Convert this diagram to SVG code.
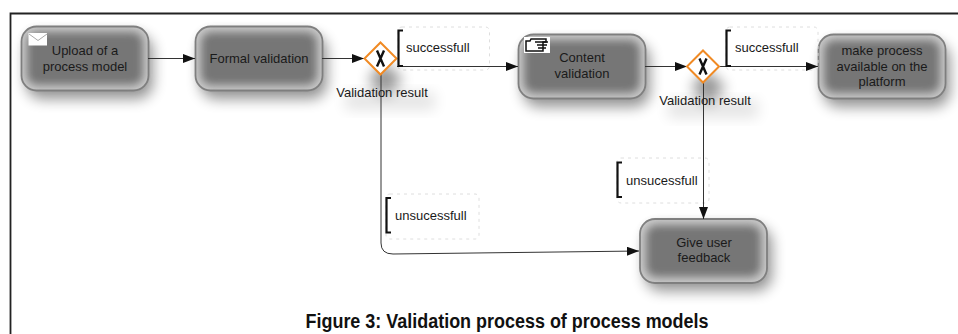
<svg xmlns="http://www.w3.org/2000/svg" width="958" height="334" viewBox="0 0 958 334">
<style>
text{font-family:"Liberation Sans",Arial,sans-serif;font-size:13px;fill:#1a1a1a;text-anchor:middle}
.lbl{text-anchor:start}
.base{fill:#cacaca;stroke:#808080;stroke-width:1.8}
.core{fill:#767676;filter:url(#soft)}
.shadow{fill:#000;opacity:.42;filter:url(#shad)}
.faint{fill:#000;opacity:.1;filter:url(#shad)}
.conn{fill:none;stroke:#333;stroke-width:1;marker-end:url(#arrow)}
.guard{fill:none;stroke:#dedede;stroke-width:1;stroke-dasharray:3 4}
.brk{fill:none;stroke:#111;stroke-width:2.200}
.gw{fill:#fff;stroke:#f08a24;stroke-width:2}
.x{fill:none;stroke:#111;stroke-width:2.400}
</style>
<defs>
<filter id="soft" x="-20%" y="-30%" width="140%" height="160%"><feGaussianBlur stdDeviation="4"/></filter>
<filter id="shad" x="-30%" y="-40%" width="160%" height="180%"><feGaussianBlur stdDeviation="7"/></filter>
<marker id="arrow" markerUnits="userSpaceOnUse" markerWidth="13" markerHeight="10" refX="12" refY="4.500" orient="auto"><path d="M0 0L12 4.500L0 9z" fill="#111"/></marker>
</defs>
<rect width="958" height="334" fill="#fff"/>
<path d="M10.500 334V13.500H958" fill="none" stroke="#222" stroke-width="1.800"/>
<g id="n1"><rect class="shadow" x="26" y="35" width="127" height="64" rx="16"/><rect class="base" x="21.500" y="26.500" width="127" height="64" rx="15"/><rect class="core" x="27" y="32" width="116" height="53" rx="10"/>
<path d="M28.500 33h18.500v12.500h-18.500z" fill="#fff"/><path d="M29 34l9 6.500l9-6.500" fill="none" stroke="#aaa" stroke-width="1"/>
<text x="85" y="55">Upload of a</text><text x="85" y="71">process model</text></g>
<g id="n2"><rect class="shadow" x="200" y="35" width="127" height="64" rx="16"/><rect class="base" x="195.500" y="26.500" width="127" height="64" rx="15"/><rect class="core" x="201" y="32" width="116" height="53" rx="10"/>
<text x="259" y="63">Formal validation</text></g>
<g id="n3"><rect class="shadow" x="523" y="43" width="127" height="64" rx="16"/><rect class="base" x="518.500" y="34.500" width="127" height="64" rx="15"/><rect class="core" x="524" y="40" width="116" height="53" rx="10"/>
<rect x="524" y="37" width="26" height="16" fill="#fff"/><path d="M526 41h4l1-2h15v3h-3v9h-17z" fill="none" stroke="#111" stroke-width="1.500"/><path d="M535 42h13M537 45h10M538 48h8" stroke="#111" stroke-width="1.300" fill="none"/>
<text x="582" y="62">Content</text><text x="582" y="78">validation</text></g>
<g id="n4"><rect class="shadow" x="823" y="43" width="127" height="64" rx="16"/><rect class="base" x="818.500" y="34.500" width="127" height="64" rx="15"/><rect class="core" x="824" y="40" width="116" height="53" rx="10"/>
<text x="882" y="55">make process</text><text x="882" y="71">available on the</text><text x="882" y="86">platform</text></g>
<g id="n5"><rect class="shadow" x="645" y="227" width="127" height="64" rx="16"/><rect class="base" x="640" y="219" width="127" height="64" rx="15"/><rect class="core" x="646" y="225" width="115" height="52" rx="10"/>
<text x="704" y="247">Give user</text><text x="704" y="262">feedback</text></g>
<g id="guards">
<rect class="guard" x="398" y="27" width="91.500" height="43" rx="4"/>
<rect class="guard" x="726" y="27" width="92" height="43" rx="4"/>
<rect class="guard" x="617" y="158" width="92" height="45" rx="4"/>
<rect class="guard" x="386" y="194" width="93" height="45" rx="4"/>
</g>
<g id="gw1"><path class="shadow" d="M384 62L403 80L384 96L368 80z"/><rect class="faint" x="345" y="92" width="90" height="18"/></g>
<g id="gw2"><path class="shadow" d="M707 70L726 88L707 104L691 88z"/><rect class="faint" x="668" y="100" width="90" height="18"/></g>
<g id="connectors">
<path class="conn" d="M148 58.500H195"/>
<path class="conn" d="M322 58.500H364"/>
<path class="conn" d="M397 66.500H518"/>
<path class="conn" d="M645 66.500H687"/>
<path class="conn" d="M719 66.500H818"/>
<path class="conn" d="M703.500 82V219"/>
<path class="conn" d="M381 74V243Q381 254 393 254L639 251"/>
</g>
<g id="gw1m"><path class="gw" d="M380.500 42.500L396.500 58.500L380.500 74.500L364.500 58.500z"/><path class="x" d="M377 50.500L384 66.500M384 50.500L377 66.500"/><text x="382" y="97">Validation result</text></g>
<g id="gw2m"><path class="gw" d="M703 50.500L719 66.500L703 82.500L687 66.500z"/><path class="x" d="M699.500 58.500L706.500 74.500M706.500 58.500L699.500 74.500"/><text x="705" y="105">Validation result</text></g>
<g id="labels">
<path class="brk" d="M403 30.500H398.500V66H403"/><text class="lbl" x="406" y="52">successfull</text>
<path class="brk" d="M731 30.500H726.500V66H731"/><text class="lbl" x="735" y="52">successfull</text>
<path class="brk" d="M622 162.500H617.500V197H622"/><text class="lbl" x="626" y="185">unsucessfull</text>
<path class="brk" d="M391 198H386.500V232.500H391"/><text class="lbl" x="395" y="220">unsucessfull</text>
<text x="507" y="328" style="font-size:20px;font-weight:bold;fill:#111" textLength="403" lengthAdjust="spacingAndGlyphs">Figure 3: Validation process of process models</text>
</g>
</svg>
